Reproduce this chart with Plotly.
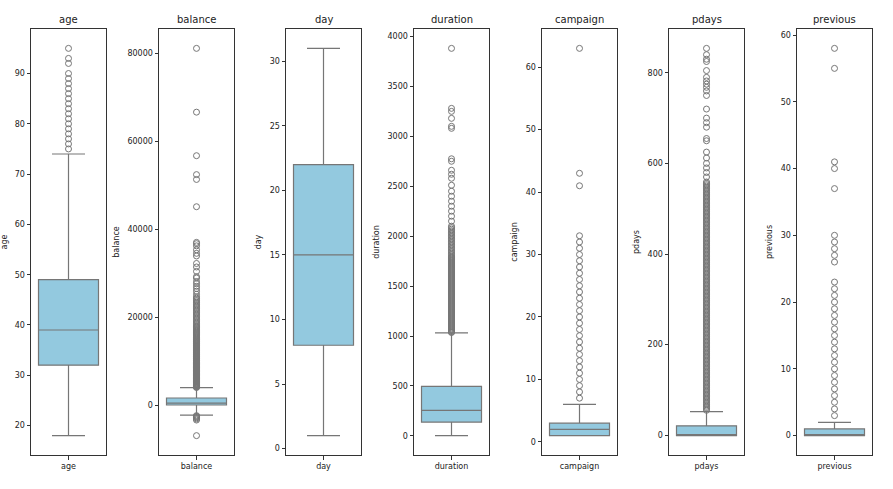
import plotly.graph_objects as go

# ---------------- data ----------------
variables = ["age", "balance", "day", "duration", "campaign", "pdays", "previous"]

q1_vals = [32, 122, 8, 138, 1, -1, 0]
median_vals = [39, 550, 15, 255, 2, -1, 0]
q3_vals = [49, 1708, 22, 496, 3, 20.75, 1]
lower_whisker = [18, -2200, 1, 2, 1, -1, 0]
upper_whisker = [74, 4080, 31, 1032, 6, 52, 2]

age_outliers = [75, 76, 77, 78, 79, 80, 81, 82, 83, 84, 85, 86, 87, 88, 89, 90, 92, 93, 95]

balance_outliers = [
    4100, 4200, 4300, 4400, 4500, 4600, 4700, 4800, 4900, 5000, 5100, 5200, 5300,
    5400, 5500, 5600, 5700, 5800, 5900, 6000, 6100, 6200, 6300, 6400, 6500, 6600,
    6700, 6800, 6900, 7000, 7100, 7200, 7300, 7400, 7500, 7600, 7700, 7800, 7900,
    8000, 8100, 8200, 8300, 8400, 8500, 8600, 8700, 8800, 8900, 9000, 9100, 9200,
    9300, 9400, 9500, 9600, 9700, 9800, 9900, 10000, 10150, 10300, 10450, 10600,
    10750, 10900, 11050, 11200, 11350, 11500, 11650, 11800, 11950, 12100, 12250,
    12400, 12550, 12700, 12850, 13000, 13150, 13300, 13450, 13600, 13750, 13900,
    14050, 14200, 14350, 14500, 14650, 14800, 14950, 15100, 15300, 15500, 15700,
    15900, 16100, 16300, 16500, 16700, 16900, 17100, 17300, 17500, 17700, 17900,
    18100, 18400, 18700, 19000, 19300, 19600, 19900, 20200, 20500, 20800, 21100,
    21400, 21700, 22000, 22300, 22600, 22900, 23200, 23500, 23800, 24100, 24400,
    24700, 25300, 26000, 26600, 27100, 27700, 28200, 29000, 29300, 30500, 31500,
    32300, 34000, 34600, 35400, 36300, 36800, 37100, 45200, 51400, 52500, 56800,
    66700, 81204,
    -2300, -2450, -2600, -2800, -3050, -3300, -6847,
]

day_outliers = []

duration_outliers = [
    1035, 1040, 1050, 1060, 1070, 1080, 1090, 1100, 1110, 1120, 1130, 1140, 1150,
    1160, 1170, 1180, 1190, 1200, 1210, 1220, 1230, 1240, 1250, 1260, 1270, 1280,
    1290, 1300, 1310, 1320, 1330, 1340, 1350, 1360, 1370, 1380, 1390, 1400, 1410,
    1420, 1430, 1440, 1450, 1460, 1470, 1480, 1490, 1500, 1510, 1520, 1530, 1540,
    1550, 1560, 1570, 1580, 1590, 1600, 1610, 1620, 1630, 1640, 1650, 1660, 1670,
    1680, 1690, 1700, 1710, 1720, 1730, 1740, 1750, 1760, 1770, 1780, 1790, 1800,
    1815, 1830, 1845, 1860, 1875, 1890, 1905, 1920, 1935, 1950, 1965, 1980, 1995,
    2010, 2025, 2040, 2055, 2070, 2085, 2100,
    2150, 2200, 2250, 2300, 2350, 2400, 2450, 2510, 2580, 2620, 2660, 2750, 2775,
    3080, 3100, 3180, 3250, 3280, 3881,
]

campaign_outliers = [7, 8, 9, 10, 11, 12, 13, 14, 15, 16, 17, 18, 19, 20, 21, 22, 23,
                     24, 25, 26, 27, 28, 29, 30, 31, 32, 33, 41, 43, 63]

pdays_outliers = [
    55, 58, 61, 64, 67, 70, 73, 76, 79, 82, 85, 88, 91, 94, 97, 100, 103, 106, 109,
    112, 115, 118, 121, 124, 127, 130, 133, 136, 139, 142, 145, 148, 151, 154, 157,
    160, 163, 166, 169, 172, 175, 178, 181, 184, 187, 190, 193, 196, 199, 202, 205,
    208, 211, 214, 217, 220, 223, 226, 229, 232, 235, 238, 241, 244, 247, 250, 253,
    256, 259, 262, 265, 268, 271, 274, 277, 280, 283, 286, 289, 292, 295, 298, 301,
    304, 307, 310, 313, 316, 319, 322, 325, 328, 331, 334, 337, 340, 343, 346, 349,
    352, 355, 358, 361, 364, 367, 370, 373, 376, 379, 382, 385, 388, 391, 394, 397,
    400, 403, 406, 409, 412, 415, 418, 421, 424, 427, 430, 433, 436, 439, 442, 445,
    448, 451, 454, 457, 460, 463, 466, 469, 472, 475, 478, 481, 484, 487, 490, 493,
    496, 499, 502, 505, 508, 511, 514, 517, 520, 523, 526, 529, 532, 535, 538, 541,
    544, 547, 550, 553, 556, 559,
    570, 580, 590, 600, 612, 625, 650, 655, 680, 690, 700, 720, 750, 760, 768, 775,
    782, 790, 805, 825, 830, 840, 854,
]

previous_outliers = [3, 4, 5, 6, 7, 8, 9, 10, 11, 12, 13, 14, 15, 16, 17, 18, 19, 20,
                     21, 22, 23, 26, 27, 28, 29, 30, 37, 40, 41, 55, 58]

outliers = [age_outliers, balance_outliers, day_outliers, duration_outliers,
            campaign_outliers, pdays_outliers, previous_outliers]

tick_steps = [10, 20000, 5, 500, 10, 200, 10]
tick_starts = [20, 0, 0, 0, 0, 0, 0]

# ---------------- style ----------------
FILL = "#93c9df"
LINE = "#767676"
AX = "#333333"
FONT = "DejaVu Sans, Arial, sans-serif"

W, H = 893, 489
panel_left = [31, 159, 286, 414, 542, 669, 797]
panel_w = 75
top_px, bot_px = 29, 455

fig = go.Figure()
for i, name in enumerate(variables):
    xa = "x" if i == 0 else f"x{i+1}"
    ya = "y" if i == 0 else f"y{i+1}"
    fig.add_trace(go.Box(
        x=[name], q1=[q1_vals[i]], median=[median_vals[i]], q3=[q3_vals[i]],
        lowerfence=[lower_whisker[i]], upperfence=[upper_whisker[i]],
        boxpoints=False, fillcolor=FILL, line=dict(color=LINE, width=1.2),
        width=0.8, whiskerwidth=0.55, xaxis=xa, yaxis=ya, showlegend=False,
        hoverinfo="skip",
    ))
    if outliers[i]:
        fig.add_trace(go.Scatter(
            x=[name] * len(outliers[i]), y=outliers[i], mode="markers",
            marker=dict(symbol="circle-open", size=6, color=LINE, line=dict(width=1)),
            xaxis=xa, yaxis=ya, showlegend=False, hoverinfo="skip",
        ))

    vals = [lower_whisker[i], upper_whisker[i], q1_vals[i]] + outliers[i]
    lo, hi = min(vals), max(vals)
    span = hi - lo
    yr = [lo - 0.05 * span, hi + 0.05 * span]

    x0 = panel_left[i] / W
    x1 = (panel_left[i] + panel_w) / W
    y0 = 1 - bot_px / H
    y1 = 1 - top_px / H

    axis_common = dict(showline=True, mirror=True, linecolor=AX, linewidth=1,
                       ticks="outside", ticklen=3.5, tickcolor=AX, showgrid=False,
                       zeroline=False, tickfont=dict(size=8, color="#222", family=FONT))
    xkey = "xaxis" if i == 0 else f"xaxis{i+1}"
    ykey = "yaxis" if i == 0 else f"yaxis{i+1}"
    fig.update_layout(**{
        xkey: dict(domain=[x0, x1], anchor=ya, type="category", range=[-0.5, 0.5],
                   fixedrange=True, **axis_common),
        ykey: dict(domain=[y0, y1], anchor=xa, range=yr, tick0=tick_starts[i],
                   dtick=tick_steps[i], tickformat="d",
                   title=dict(text=name, font=dict(size=8, color="#222", family=FONT),
                              standoff=6),
                   **axis_common),
    })
    fig.add_annotation(x=(x0 + x1) / 2, y=y1, xref="paper", yref="paper",
                       xanchor="center", text=name, showarrow=False,
                       yanchor="bottom", yshift=2,
                       font=dict(size=10, color="#222", family=FONT))

fig.update_layout(width=W, height=H, margin=dict(l=0, r=0, t=0, b=0),
                  paper_bgcolor="white", plot_bgcolor="white",
                  font=dict(family=FONT))
fig.write_html("out.html")
